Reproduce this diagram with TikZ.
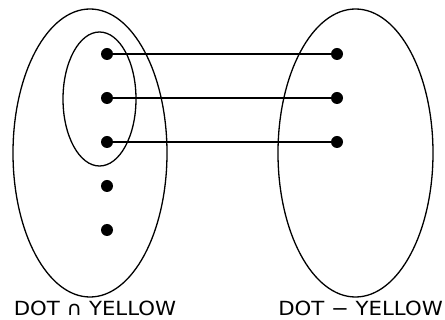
\documentclass[tikz,border=0pt]{standalone}
\usepackage{fontspec}
\setmainfont{DejaVu Sans}
\usetikzlibrary{shapes.geometric}
\begin{document}
\begin{tikzpicture}[x=1pt,y=-1pt,
  setline/.style={line width=1.3pt},
  dotnode/.style={circle,fill=black,inner sep=0pt,minimum size=12pt},
  lbl/.style={font=\fontsize{19.5}{22}\selectfont,inner sep=0pt,anchor=base}]
\useasboundingbox (0,0) rectangle (445,320);
\draw[setline] (90,153) ellipse [x radius=77, y radius=144];
\draw[setline] (355.5,153) ellipse [x radius=77.5, y radius=144];
\draw[setline] (99.5,99) ellipse [x radius=36.5, y radius=67];
\node[dotnode] (a1) at (107,54) {};
\node[dotnode] (a2) at (107,98) {};
\node[dotnode] (a3) at (107,142) {};
\node[dotnode] (a4) at (107,186) {};
\node[dotnode] (a5) at (107,230) {};
\node[dotnode] (b1) at (337,54) {};
\node[dotnode] (b2) at (337,98) {};
\node[dotnode] (b3) at (337,142) {};
\draw[setline] (a1) -- (b1);
\draw[setline] (a2) -- (b2);
\draw[setline] (a3) -- (b3);
\node[lbl] (l1) at (95,316) {\scalebox{1.09}[1]{DOT ∩ YELLOW}};
\node[lbl] (l2) at (360.5,316) {\scalebox{1.09}[1]{DOT − YELLOW}};
\end{tikzpicture}
\end{document}
